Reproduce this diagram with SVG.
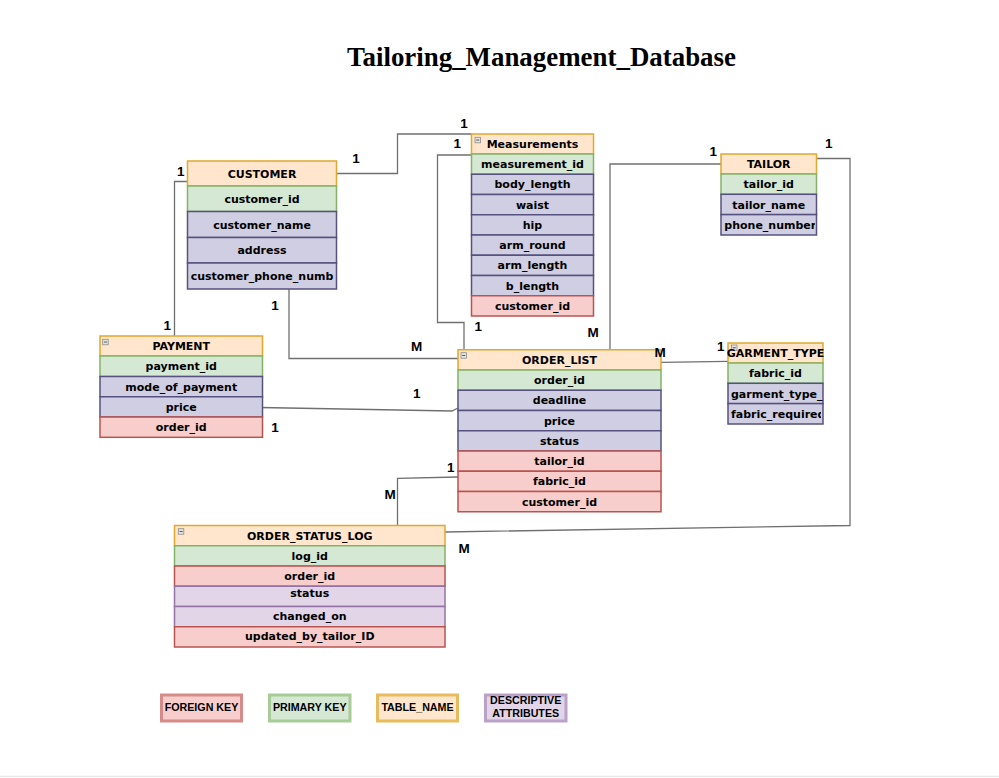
<svg xmlns="http://www.w3.org/2000/svg" xmlns:xlink="http://www.w3.org/1999/xlink" width="999" height="778" viewBox="0 0 999 778">
<style>
.hd{fill:#ffe6cc;stroke:#e0a82e;stroke-width:1.5}
.pk{fill:#d5e8d4;stroke:#82b366;stroke-width:1.5}
.at{fill:#d0cee2;stroke:#56517e;stroke-width:1.5}
.fk{fill:#f8cecc;stroke:#b85450;stroke-width:1.5}
.da{fill:#e1d5e7;stroke:#9673a6;stroke-width:1.5}
.t{font-family:"DejaVu Sans",Verdana,sans-serif;font-weight:bold;font-size:11px;text-anchor:middle;fill:#000}
.ts{text-anchor:start}
.lb{font-family:"Liberation Sans",Arial,sans-serif;font-weight:bold;font-size:13.5px;text-anchor:middle;fill:#000}
.lg{font-family:"Liberation Sans",Arial,sans-serif;font-weight:bold;font-size:10.7px;text-anchor:middle;fill:#000}
.cn{fill:none;stroke:#707070;stroke-width:1.3}
</style>
<defs>
<g id="ic"><rect x="0" y="0" width="5.5" height="5.5" fill="#e6e6e6" stroke="#8a8a8a" stroke-width="0.8"/><line x1="1.2" y1="2.75" x2="4.3" y2="2.75" stroke="#555" stroke-width="1"/></g>
<clipPath id="cpT"><rect x="721" y="214" width="94" height="21"/></clipPath>
<clipPath id="cpG"><rect x="728" y="403" width="93" height="21"/></clipPath>
</defs>
<rect x="0" y="0" width="999" height="778" fill="#ffffff"/>
<line x1="0" y1="776.5" x2="999" y2="776.5" stroke="#e8e8e8" stroke-width="1.5"/>
<text x="541.5" y="66" font-family="'Liberation Serif','Times New Roman',serif" font-weight="bold" font-size="26.9" text-anchor="middle">Tailoring_Management_Database</text>

<g id="connectors">
<path class="cn" d="M337,173.5 H397.5 V134 H471.5"/>
<path class="cn" d="M471.5,155 H437.5 V322.5 H464 V349.75"/>
<path class="cn" d="M187.5,181.5 H174.5 V336"/>
<path class="cn" d="M289,289 V358.5 H458"/>
<path class="cn" d="M260,407.5 L452,411 L458,408"/>
<path class="cn" d="M721,164 H610 V349.75"/>
<path class="cn" d="M816.5,158.5 H850 V525.5 L445,532"/>
<path class="cn" d="M661,362.3 L728,361.3"/>
<path class="cn" d="M458,477 L397.5,478.3 V525.5"/>
</g>

<g id="customer">
<rect class="hd" x="187.5" y="161" width="149" height="25"/>
<text class="t" x="262" y="177.5">CUSTOMER</text>
<rect class="pk" x="187.5" y="186" width="149" height="25.5"/>
<text class="t" x="262" y="202.7">customer_id</text>
<rect class="at" x="187.5" y="211.5" width="149" height="26"/>
<text class="t" x="262" y="228.5">customer_name</text>
<rect class="at" x="187.5" y="237.5" width="149" height="25.5"/>
<text class="t" x="262" y="254.2">address</text>
<rect class="at" x="187.5" y="263" width="149" height="26"/>
<text class="t" x="262" y="280">customer_phone_numb</text>
</g>

<g id="measurements">
<rect class="hd" x="471.5" y="134" width="122" height="20"/>
<use xlink:href="#ic" x="475" y="137.3"/>
<text class="t" x="532.5" y="148">Measurements</text>
<rect class="pk" x="471.5" y="154" width="122" height="20.25"/>
<text class="t" x="532.5" y="168.1">measurement_id</text>
<rect class="at" x="471.5" y="174.25" width="122" height="20.25"/>
<text class="t" x="532.5" y="188.4">body_length</text>
<rect class="at" x="471.5" y="194.5" width="122" height="20.25"/>
<text class="t" x="532.5" y="208.6">waist</text>
<rect class="at" x="471.5" y="214.75" width="122" height="20.25"/>
<text class="t" x="532.5" y="228.9">hip</text>
<rect class="at" x="471.5" y="235" width="122" height="20.25"/>
<text class="t" x="532.5" y="249.1">arm_round</text>
<rect class="at" x="471.5" y="255.25" width="122" height="20.25"/>
<text class="t" x="532.5" y="269.4">arm_length</text>
<rect class="at" x="471.5" y="275.5" width="122" height="20.25"/>
<text class="t" x="532.5" y="289.6">b_length</text>
<rect class="fk" x="471.5" y="295.75" width="122" height="20.25"/>
<text class="t" x="532.5" y="309.9">customer_id</text>
</g>

<g id="tailor">
<rect class="hd" x="721" y="154" width="95.5" height="20"/>
<text class="t" x="768.75" y="168">TAILOR</text>
<rect class="pk" x="721" y="174" width="95.5" height="20.3"/>
<text class="t" x="768.75" y="188.2">tailor_id</text>
<rect class="at" x="721" y="194.3" width="95.5" height="20.3"/>
<text class="t" x="768.75" y="208.5">tailor_name</text>
<rect class="at" x="721" y="214.6" width="95.5" height="20.4"/>
<text class="t ts" x="724.3" y="228.8" clip-path="url(#cpT)">phone_number</text>
</g>

<g id="payment">
<rect class="hd" x="100" y="336" width="162.5" height="20"/>
<use xlink:href="#ic" x="102.7" y="339.3"/>
<text class="t" x="181.25" y="350">PAYMENT</text>
<rect class="pk" x="100" y="356" width="162.5" height="20.5"/>
<text class="t" x="181.25" y="370.3">payment_id</text>
<rect class="at" x="100" y="376.5" width="162.5" height="20.25"/>
<text class="t" x="181.25" y="390.6">mode_of_payment</text>
<rect class="at" x="100" y="396.75" width="162.5" height="20.25"/>
<text class="t" x="181.25" y="410.9">price</text>
<rect class="fk" x="100" y="417" width="162.5" height="20.3"/>
<text class="t" x="181.25" y="431.2">order_id</text>
</g>

<g id="order_list">
<rect class="hd" x="458" y="349.75" width="203" height="20.25"/>
<use xlink:href="#ic" x="461" y="352.7"/>
<text class="t" x="559.5" y="363.9">ORDER_LIST</text>
<rect class="pk" x="458" y="370" width="203" height="20.25"/>
<text class="t" x="559.5" y="384.1">order_id</text>
<rect class="at" x="458" y="390.25" width="203" height="20.25"/>
<text class="t" x="559.5" y="404.4">deadline</text>
<rect class="at" x="458" y="410.5" width="203" height="20.25"/>
<text class="t" x="559.5" y="424.6">price</text>
<rect class="at" x="458" y="430.75" width="203" height="20.25"/>
<text class="t" x="559.5" y="444.9">status</text>
<rect class="fk" x="458" y="451" width="203" height="20.25"/>
<text class="t" x="559.5" y="465.1">tailor_id</text>
<rect class="fk" x="458" y="471.25" width="203" height="20.25"/>
<text class="t" x="559.5" y="485.4">fabric_id</text>
<rect class="fk" x="458" y="491.5" width="203" height="20.25"/>
<text class="t" x="559.5" y="505.6">customer_id</text>
</g>

<g id="garment_type">
<rect class="hd" x="728" y="343" width="95" height="20"/>
<use xlink:href="#ic" x="731.5" y="345"/>
<text class="t" x="775.5" y="357">GARMENT_TYPE</text>
<rect class="pk" x="728" y="363" width="95" height="20.3"/>
<text class="t" x="775.5" y="377.2">fabric_id</text>
<rect class="at" x="728" y="383.3" width="95" height="20.3"/>
<text class="t ts" x="731" y="397.5">garment_type_</text>
<rect class="at" x="728" y="403.6" width="95" height="20.4"/>
<text class="t ts" x="731" y="417.8" clip-path="url(#cpG)">fabric_required</text>
</g>

<g id="order_status_log">
<rect class="hd" x="174.5" y="525.5" width="270.5" height="20.25"/>
<use xlink:href="#ic" x="178.3" y="528.7"/>
<text class="t" x="309.75" y="539.6">ORDER_STATUS_LOG</text>
<rect class="pk" x="174.5" y="545.75" width="270.5" height="20.25"/>
<text class="t" x="309.75" y="559.9">log_id</text>
<rect class="fk" x="174.5" y="566" width="270.5" height="20.25"/>
<text class="t" x="309.75" y="580.1">order_id</text>
<rect class="da" x="174.5" y="586.25" width="270.5" height="20.25"/>
<text class="t" x="309.75" y="597.3">status</text>
<rect class="da" x="174.5" y="606.5" width="270.5" height="20.25"/>
<text class="t" x="309.75" y="620">changed_on</text>
<rect class="fk" x="174.5" y="626.75" width="270.5" height="20.25"/>
<text class="t" x="309.75" y="640.3">updated_by_tailor_ID</text>
</g>

<g id="labels">
<text class="lb" x="356" y="162.5">1</text>
<text class="lb" x="464" y="128">1</text>
<text class="lb" x="457.3" y="148">1</text>
<text class="lb" x="180.7" y="175.5">1</text>
<text class="lb" x="713.3" y="155.5">1</text>
<text class="lb" x="828.7" y="148">1</text>
<text class="lb" x="167.3" y="330">1</text>
<text class="lb" x="275" y="310">1</text>
<text class="lb" x="416.7" y="351">M</text>
<text class="lb" x="416.7" y="398">1</text>
<text class="lb" x="275" y="432">1</text>
<text class="lb" x="478.3" y="330.5">1</text>
<text class="lb" x="593" y="337">M</text>
<text class="lb" x="660" y="357">M</text>
<text class="lb" x="720.7" y="351">1</text>
<text class="lb" x="450.7" y="472">1</text>
<text class="lb" x="390" y="499">M</text>
<text class="lb" x="464" y="553">M</text>
</g>

<g id="legend">
<rect x="161.5" y="695" width="80" height="26" fill="#f8cecc" stroke="#d68b88" stroke-width="3"/>
<text class="lg" x="201.5" y="710.5">FOREIGN KEY</text>
<rect x="269.5" y="695" width="80.5" height="26" fill="#d5e8d4" stroke="#a8cc96" stroke-width="3"/>
<text class="lg" x="309.7" y="710.5">PRIMARY KEY</text>
<rect x="377.5" y="695" width="80" height="26" fill="#ffe6cc" stroke="#e8bb5c" stroke-width="3"/>
<text class="lg" x="417.5" y="710.5">TABLE_NAME</text>
<rect x="485.5" y="695" width="80.5" height="26" fill="#e1d5e7" stroke="#b9a1c8" stroke-width="3"/>
<text class="lg" x="525.7" y="704">DESCRIPTIVE</text>
<text class="lg" x="525.7" y="716.6">ATTRIBUTES</text>
</g>
</svg>
